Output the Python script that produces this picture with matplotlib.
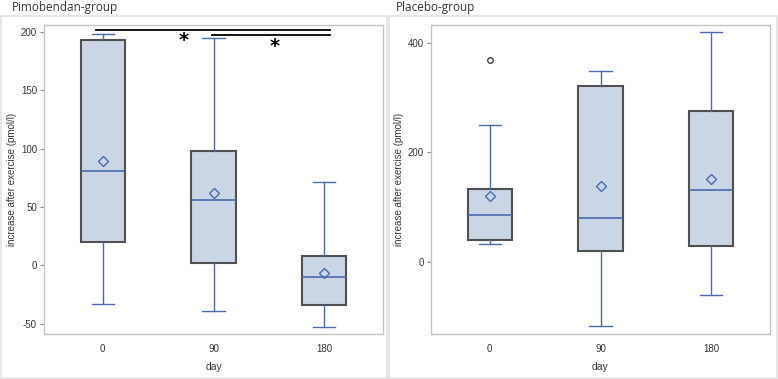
import matplotlib
matplotlib.use("Agg")
import matplotlib.pyplot as plt
from matplotlib.patches import Rectangle

days = ["0", "90", "180"]

# Pimobendan-group: whisker low, Q1, median, Q3, whisker high, mean
pimo_whislo = [-33, -39, -53]
pimo_q1 = [20, 2, -34]
pimo_med = [81, 56, -10]
pimo_q3 = [193, 98, 8]
pimo_whishi = [198, 195, 71]
pimo_mean = [89, 62, -7]
pimo_fliers = [[], [], []]

# Placebo-group
plac_whislo = [32, -118, -60]
plac_q1 = [39, 20, 29]
plac_med = [86, 80, 131]
plac_q3 = [133, 322, 275]
plac_whishi = [251, 349, 421]
plac_mean = [120, 138, 151]
plac_fliers = [[369], [], []]

W, H = 778, 379
BOX_FILL = "#cad5e6"
BOX_EDGE = "#505050"
BLUE = "#4a6aae"
FRAME = "#c4c4c4"

plt.rcParams["axes.unicode_minus"] = False
plt.rcParams["font.family"] = ["Liberation Sans Narrow", "Liberation Sans", "DejaVu Sans"]


def px_axes(fig, left, top, right, bottom):
    return fig.add_axes([left / W, 1 - bottom / H, (right - left) / W, (bottom - top) / H])


def draw_panel(ax, whislo, q1, med, q3, whishi, mean, fliers, ylim, yticks):
    stats = []
    for i in range(len(days)):
        stats.append(dict(whislo=whislo[i], q1=q1[i], med=med[i], q3=q3[i],
                          whishi=whishi[i], mean=mean[i], fliers=fliers[i], label=days[i]))
    ax.bxp(stats, positions=range(len(days)), widths=0.4, patch_artist=True,
           showmeans=True, showfliers=True,
           boxprops=dict(facecolor=BOX_FILL, edgecolor=BOX_EDGE, linewidth=1.5),
           whiskerprops=dict(color=BLUE, linewidth=1.0),
           capprops=dict(color=BLUE, linewidth=1.0),
           medianprops=dict(color=BLUE, linewidth=1.2),
           meanprops=dict(marker="D", markerfacecolor="none", markeredgecolor=BLUE,
                          markersize=5, markeredgewidth=1.0),
           flierprops=dict(marker="o", markerfacecolor="none", markeredgecolor="#333333",
                           markersize=4, markeredgewidth=0.9))
    ax.set_xlim(-0.53, 2.53)
    ax.set_ylim(*ylim)
    ax.set_yticks(yticks)
    for s in ax.spines.values():
        s.set_color(FRAME)
        s.set_linewidth(1.0)
    ax.tick_params(axis="y", length=3, color="#888888", labelsize=7, labelcolor="#333333", pad=2)
    ax.tick_params(axis="x", length=0, labelsize=7, labelcolor="#333333", pad=7)
    ax.set_xlabel("day", fontsize=7.5, color="#333333")
    ax.xaxis.set_label_coords(0.5, -0.09)
    ax.set_ylabel("increase after exercise (pmol/l)", fontsize=7, color="#333333")
    ax.yaxis.set_label_coords(-27 / 339, 0.5)


fig = plt.figure(figsize=(W / 100, H / 100), dpi=100)

# panel borders
fig.patches.append(Rectangle((1 / W, 1 - 378 / H), 386 / W, 362 / H, transform=fig.transFigure,
                             fill=False, edgecolor="#e2e2e2", linewidth=1.2))
fig.patches.append(Rectangle((389 / W, 1 - 378 / H), 388 / W, 362 / H, transform=fig.transFigure,
                             fill=False, edgecolor="#e2e2e2", linewidth=1.2))

ax1 = px_axes(fig, 44, 25, 383, 334)
draw_panel(ax1, pimo_whislo, pimo_q1, pimo_med, pimo_q3, pimo_whishi, pimo_mean, pimo_fliers,
           (-59, 206), [-50, 0, 50, 100, 150, 200])
# significance markers
ax1.plot([-0.06, 2.05], [202, 202], color="black", linewidth=1.3, clip_on=False)
ax1.plot([0.99, 2.05], [197.4, 197.4], color="black", linewidth=1.3, clip_on=False)
ax1.text(0.73, 192.5, "*", fontsize=14, ha="center", va="center", family="DejaVu Sans",
         fontweight="bold")
ax1.text(1.55, 187.5, "*", fontsize=14, ha="center", va="center", family="DejaVu Sans",
         fontweight="bold")

ax2 = px_axes(fig, 431, 25, 770, 334)
draw_panel(ax2, plac_whislo, plac_q1, plac_med, plac_q3, plac_whishi, plac_mean, plac_fliers,
           (-132, 433), [0, 200, 400])

fig.text(12 / W, 1 - 7 / H, "Pimobendan-group", fontsize=8.5, family=["Open Sans", "DejaVu Sans"],
         color="#333333", va="center", ha="left")
fig.text(396 / W, 1 - 7 / H, "Placebo-group", fontsize=8.5, family=["Open Sans", "DejaVu Sans"],
         color="#333333", va="center", ha="left")

fig.savefig("out.png", dpi=100)
